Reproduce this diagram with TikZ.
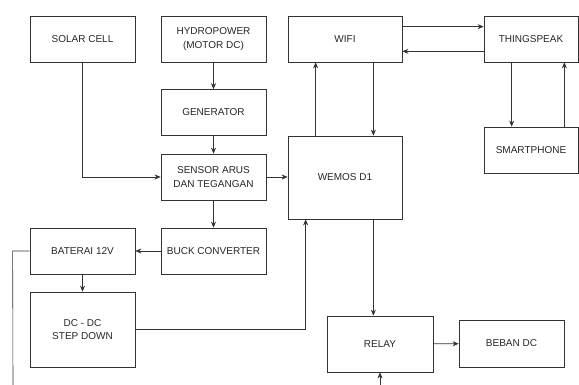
\documentclass[tikz,border=0pt]{standalone}
\usepackage{fontspec}
\setmainfont{Liberation Sans}
\usepackage{tikz}
\usetikzlibrary{positioning,arrows.meta}

\begin{document}
\begin{tikzpicture}[
  x=1pt, y=-1pt,
  font=\fontsize{10}{13.5}\selectfont,
  box/.style={draw=black!80, line width=0.7pt, align=center, text=black!85,
              minimum width=105pt, minimum height=46pt, inner sep=2pt},
  arr/.style={-{Stealth[length=6pt,width=5pt]}, line width=0.6pt, black!80},
  ln/.style={line width=0.6pt, black!80},
]
\useasboundingbox (0,0) rectangle (579,385);
% power side (left)
\node[box] (solar) at (82.5,39) {SOLAR CELL};
\node[box] (hydro) at (213.5,39) {HYDROPOWER\\(MOTOR DC)};
\node[box] (gen) at (213.5,112.5) {GENERATOR};
\node[box] (sens) at (213.5,177) {SENSOR ARUS\\DAN TEGANGAN};
\node[box] (buck) at (213.5,251) {BUCK CONVERTER};
\node[box] (bat) at (82.5,251) {BATERAI 12V};
\node[box, minimum height=75pt] (dcdc) at (82.5,329.5) {DC - DC\\STEP DOWN};
% control side (right)
\node[box, minimum width=114pt] (wifi) at (345,39) {WIFI};
\node[box, minimum width=114pt, minimum height=83pt] (wemos) at (345,177.5) {WEMOS D1};
\node[box, minimum width=94pt] (ts) at (531,39) {THINGSPEAK};
\node[box, minimum width=94pt] (phone) at (531,150) {SMARTPHONE};
\node[box, minimum width=106pt, minimum height=56pt] (relay) at (380,344) {RELAY};
\node[box, minimum height=47pt] (load) at (511.5,343.5) {BEBAN DC};
% loose ends at the bottom edge
\coordinate (batend) at (13,385);
\coordinate (relayin) at (380,385);
% arrows
\draw[arr] (hydro) -- (gen); \draw[arr] (gen) -- (sens);
\draw[arr] (solar) |- (sens);
\draw[arr] (sens.east) -- (sens.east -| wemos.west);
\draw[arr] (sens) -- (buck); \draw[arr] (buck) -- (bat);
\draw[arr] (bat) -- (dcdc);
\draw[ln] (bat.west) -- ++(-17,0) -- (batend);
\draw[arr] (dcdc.east) -| ([xshift=18pt]wemos.south west);
\draw[arr] ([xshift=28pt]wemos.north west) -- ([xshift=28pt]wifi.south west);
\draw[arr] ([xshift=-29pt]wifi.south east) -- ([xshift=-29pt]wemos.north east);
\draw[arr] ([yshift=-11pt]wifi.north east) -- ([yshift=-11pt]wifi.north east -| ts.west);
\draw[arr] ([yshift=11pt]ts.south west) -- ([yshift=11pt]ts.south west -| wifi.east);
\draw[arr] ([xshift=28pt]ts.south west) -- ([xshift=28pt]phone.north west);
\draw[arr] ([xshift=-14pt]phone.north east) -- ([xshift=-14pt]ts.south east);
\draw[arr] ([xshift=-29pt]wemos.south east) -- ([xshift=-29pt]wemos.south east |- relay.north);
\draw[arr] (relay) -- (load);
\draw[arr] (relayin) -- (relay);
\end{tikzpicture}
\end{document}
